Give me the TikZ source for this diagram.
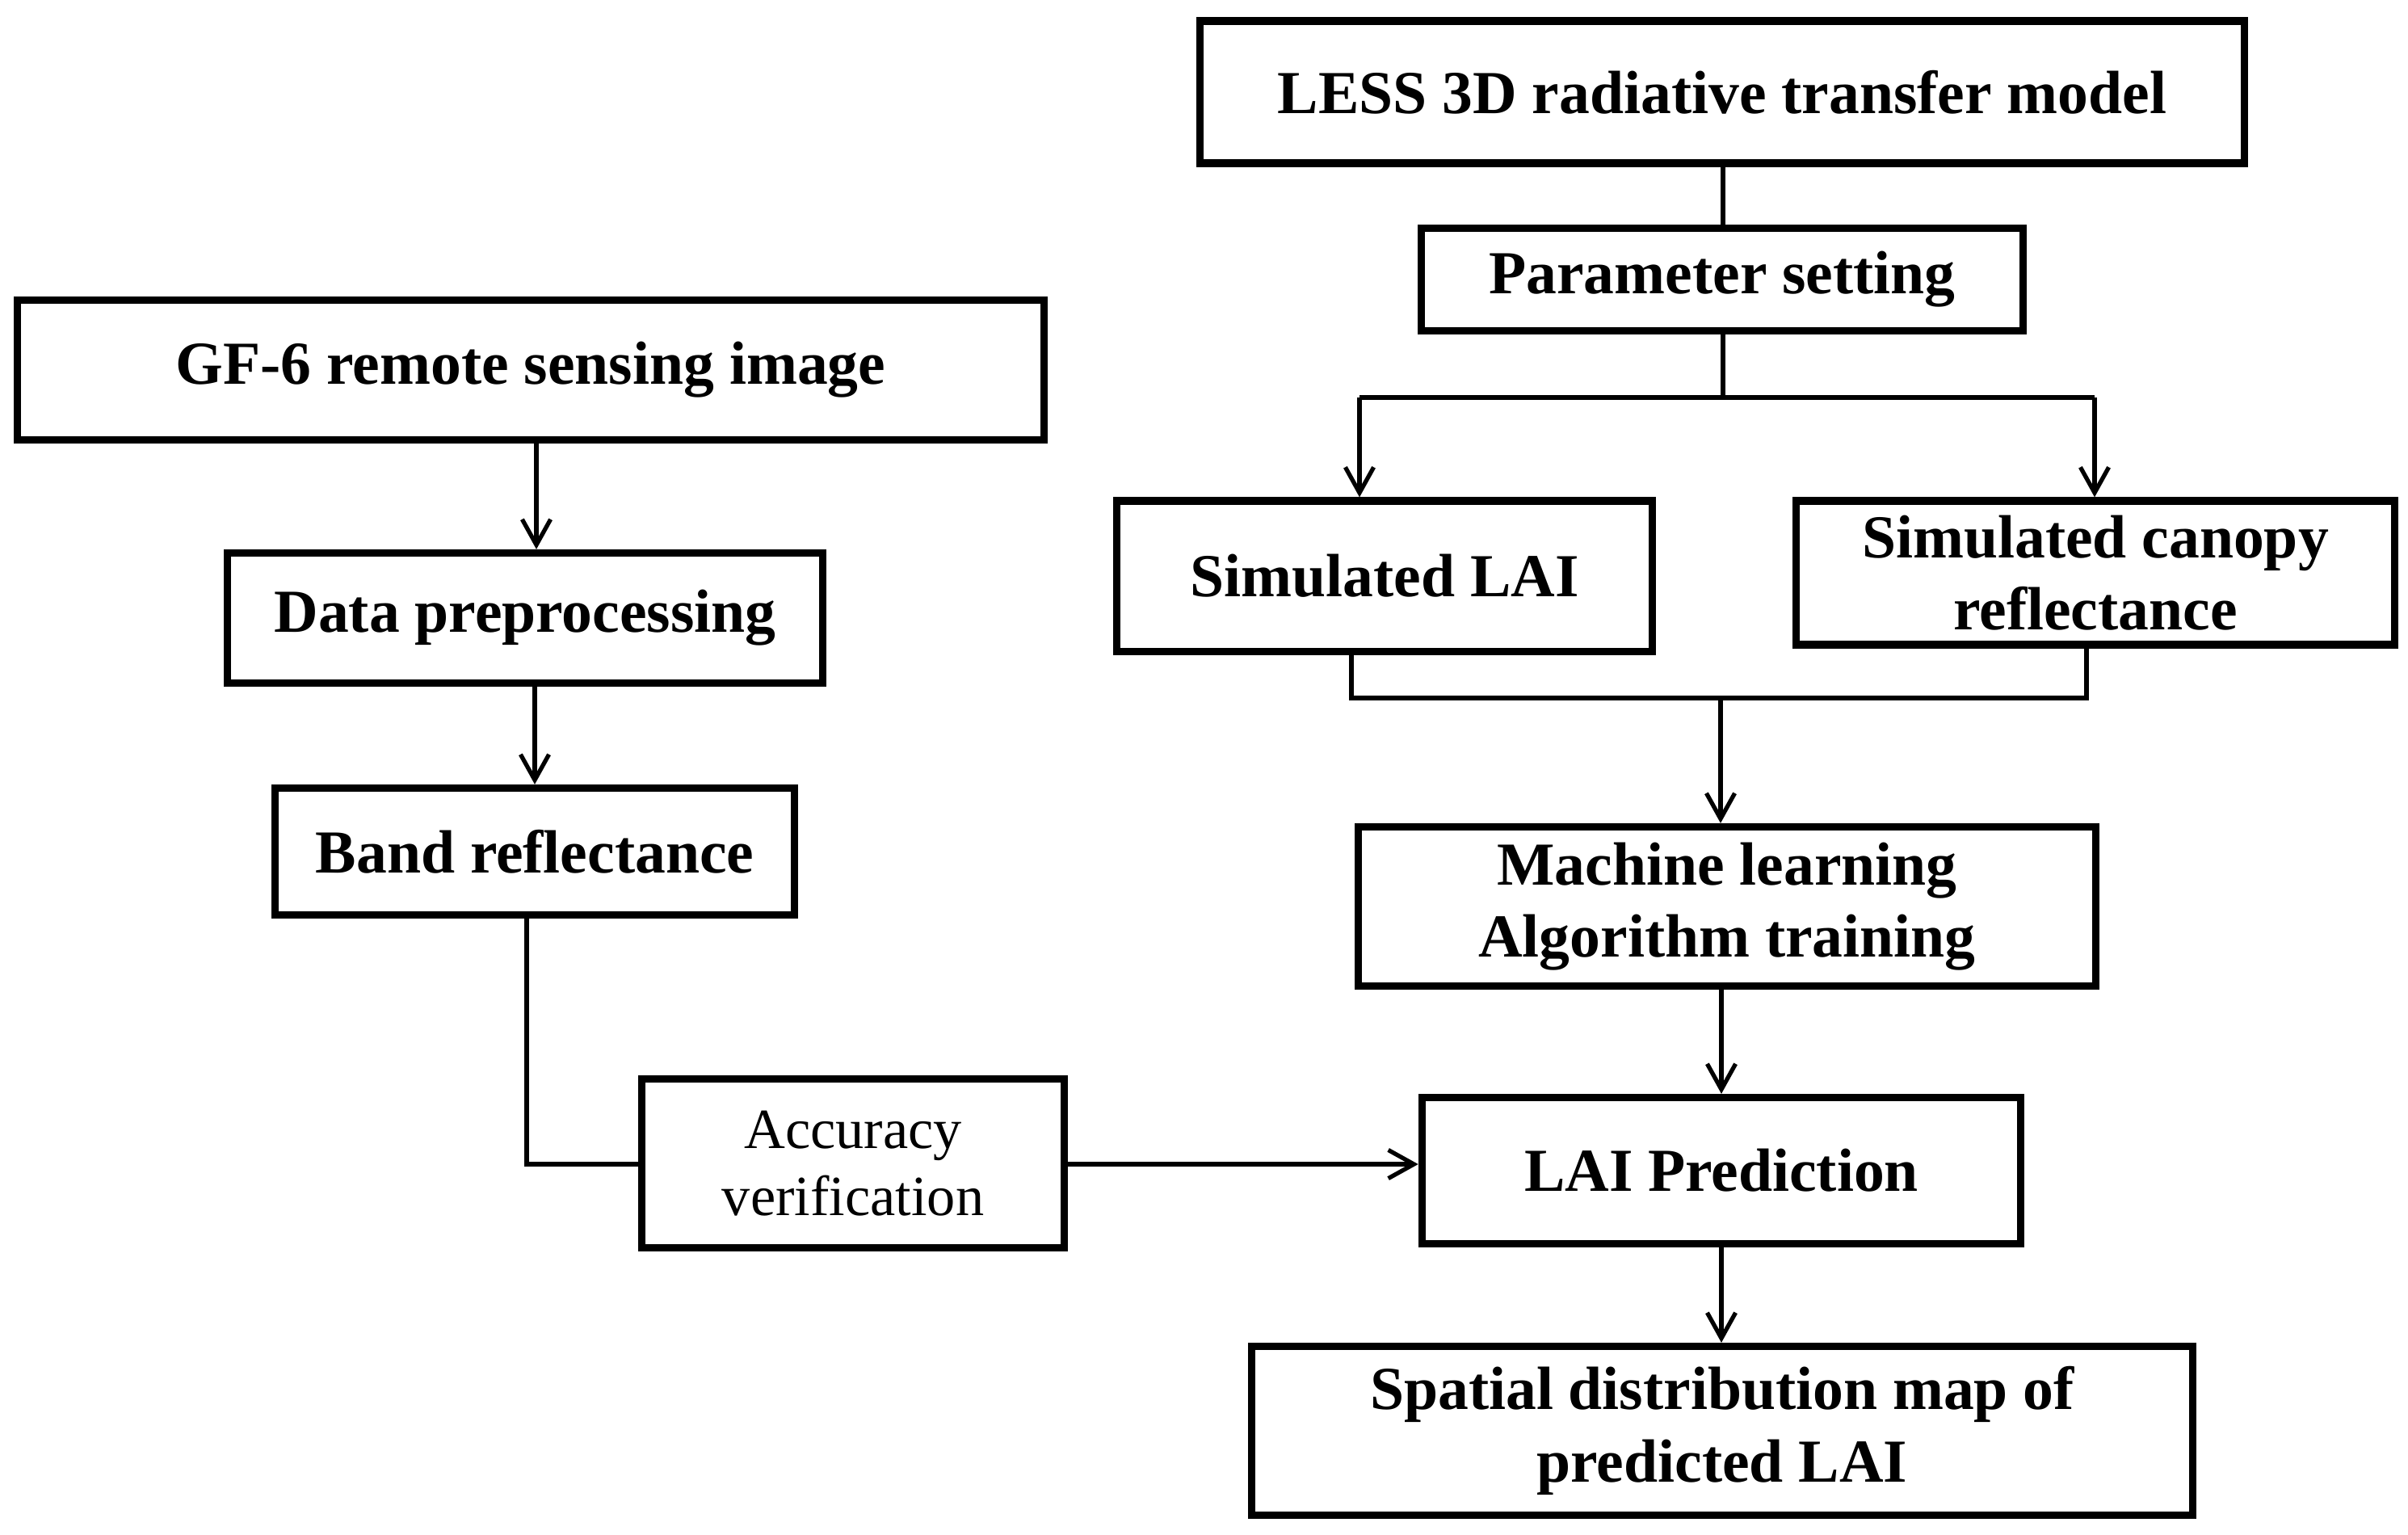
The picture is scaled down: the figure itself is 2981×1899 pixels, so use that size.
\documentclass[tikz,border=0pt]{standalone}
\usepackage{fontspec}
\setmainfont{Liberation Serif}
\usetikzlibrary{arrows.meta}
\begin{document}
\begin{tikzpicture}[x=0.01cm,y=-0.01cm,
  box/.style={draw,line width=2.6pt,rectangle,inner sep=0pt,align=center,
    font=\fontsize{21.5}{25.5}\selectfont\bfseries},
  thinbox/.style={box,font=\fontsize{20}{23.5}\selectfont},
  conn/.style={line width=1.5pt},
  arr/.style={conn,-{Straight Barb[length=9pt,width=10pt,line width=1.5pt]}}]
\useasboundingbox (0,0) rectangle (2981,1899);
\fill[white] (0,0) rectangle (2981,1899);
% nodes
\node[box,minimum width=12.93cm,minimum height=1.76cm] (less) at (2132,114) {LESS 3D radiative transfer model};
\node[box,minimum width=7.44cm,minimum height=1.27cm] (param) at (2132,346) {Parameter setting};
\node[box,minimum width=12.70cm,minimum height=1.73cm] (gf) at (657,458) {GF-6 remote sensing image};
\node[box,minimum width=7.37cm,minimum height=1.61cm] (dp) at (650,765) {Data preprocessing};
\node[box,minimum width=6.42cm,minimum height=1.57cm] (br) at (662,1054) {Band reflectance};
\node[box,minimum width=6.62cm,minimum height=1.86cm] (slai) at (1714,713) {Simulated LAI};
\node[box,minimum width=7.40cm,minimum height=1.78cm] (scan) at (2594,709) {Simulated canopy\\reflectance};
\node[box,minimum width=9.13cm,minimum height=1.97cm] (ml) at (2138,1122) {Machine learning\\Algorithm training};
\node[thinbox,minimum width=5.23cm,minimum height=2.09cm] (acc) at (1056,1440) {Accuracy\\verification};
\node[box,minimum width=7.41cm,minimum height=1.81cm] (lai) at (2131,1449) {LAI Prediction};
\node[box,minimum width=11.64cm,minimum height=2.09cm] (sp) at (2132,1771) {Spatial distribution map of\\predicted LAI};
% coordinates
\coordinate (split) at (2133,492);
\coordinate (sl) at (1683,492);
\coordinate (sr) at (2593,492);
\coordinate (ml1) at (1673,864);
\coordinate (mr) at (2583,864);
\coordinate (mc) at (2130,864);
\coordinate (gfx) at (664,0);
\coordinate (brx) at (652,1441);
% connectors
\draw[conn] (less.south -| split) -- (param.north -| split);
\draw[conn] (param.south -| split) -- (split);
\draw[conn] (sl) -- (sr);
\draw[arr] (sl) -- (sl |- slai.north);
\draw[arr] (sr) -- (sr |- scan.north);
\draw[conn] (ml1 |- slai.south) -- (ml1) -- (mr) -- (mr |- scan.south);
\draw[arr] (mc) -- (mc |- ml.north);
\draw[arr] (ml.south -| lai.north) -- (lai.north);
\draw[arr] (lai.south) -- (lai.south |- sp.north);
\draw[arr] (gf.south -| gfx) -- (dp.north -| gfx);
\draw[arr] (dp.south -| br.north) -- (br.north);
\draw[conn] (br.south -| brx) -- (brx) -- (brx -| acc.west);
\draw[arr] (acc.east |- brx) -- (lai.west |- brx);
\end{tikzpicture}
\end{document}
